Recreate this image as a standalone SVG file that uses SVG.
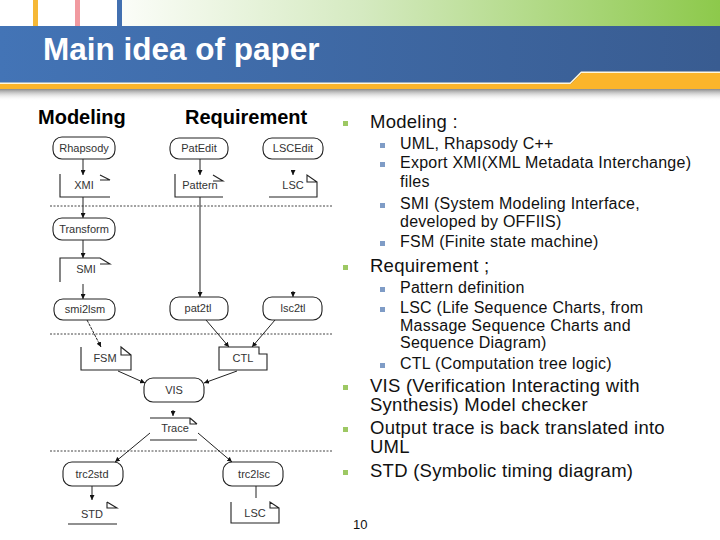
<svg xmlns="http://www.w3.org/2000/svg" width="720" height="540" viewBox="0 0 720 540">
<defs>
<linearGradient id="gTop" x1="122" y1="0" x2="720" y2="0" gradientUnits="userSpaceOnUse">
<stop offset="0" stop-color="#fbfdf8"/><stop offset="0.4" stop-color="#d5eac1"/><stop offset="1" stop-color="#8dc94b"/>
</linearGradient>
<linearGradient id="gBlue" x1="0" y1="0" x2="720" y2="0" gradientUnits="userSpaceOnUse">
<stop offset="0" stop-color="#4374b6"/><stop offset="1" stop-color="#395c91"/>
</linearGradient>
<linearGradient id="gShadow" x1="0" y1="89" x2="0" y2="101" gradientUnits="userSpaceOnUse">
<stop offset="0" stop-color="#8a8a8a"/><stop offset="1" stop-color="#ffffff" stop-opacity="0"/>
</linearGradient>
<marker id="ah" markerWidth="5" markerHeight="5" refX="5" refY="2.5" orient="auto" markerUnits="userSpaceOnUse">
<path d="M0,0 L5,2.5 L0,5 z" fill="#111"/>
</marker>
<style>
.proc{fill:none;stroke:#222;stroke-width:1.1}
.doc{fill:none;stroke:#222;stroke-width:1.1}
.lbl{font-family:"Liberation Sans",Arial,sans-serif;font-size:11px;fill:#333;text-anchor:middle}
.head{font-family:"Liberation Sans",Arial,sans-serif;font-size:20px;font-weight:bold;fill:#000}
.sep{stroke:#444;stroke-width:1;stroke-dasharray:2,1.5}
.con{stroke:#222;stroke-width:1;fill:none}
.b1{font-family:"Liberation Sans",Arial,sans-serif;font-size:18.5px;letter-spacing:0.25px;fill:#111}
.b2{font-family:"Liberation Sans",Arial,sans-serif;font-size:16px;letter-spacing:0.25px;fill:#111}
.sq1{fill:#9dc863}
.sq2{fill:#7f9cc6}
</style>
</defs>
<rect width="720" height="540" fill="#ffffff"/>
<!-- header -->
<g id="header">
<rect x="122" y="0" width="598" height="26" fill="url(#gTop)"/>
<rect x="33" y="0" width="5" height="26" fill="#f6b836"/>
<rect x="75" y="0" width="5" height="26" fill="#f19aa0"/>
<rect x="117" y="0" width="5" height="26" fill="#4270b0"/>
<rect x="0" y="26" width="720" height="58" fill="url(#gBlue)"/>
<rect x="0" y="89" width="720" height="12" fill="url(#gShadow)"/>
<path d="M0,82.5 H570 L581,71.5 H720 V73 H581.6 L570.6,84 H0 Z" fill="#fff8e0"/>
<path d="M0,84 H570.6 L581.6,73 H720 V89 H0 Z" fill="#fbb52b"/>
<text x="43" y="60" font-family="Liberation Sans,Arial,sans-serif" font-size="31.5" font-weight="bold" fill="#ffffff">Main idea of paper</text>
</g>
<!-- headings -->
<text class="head" x="38" y="124">Modeling</text>
<text class="head" x="185" y="124">Requirement</text>
<!-- separators -->
<g id="separators">
<line class="sep" x1="50" y1="206" x2="333" y2="206"/>
<line class="sep" x1="50" y1="334" x2="333" y2="334"/>
<line class="sep" x1="50" y1="451" x2="333" y2="451"/>
</g>
<!-- connectors -->
<g id="connectors">
<line class="con" x1="83" y1="159" x2="83" y2="175" marker-end="url(#ah)"/>
<line class="con" x1="83" y1="197" x2="83" y2="218" marker-end="url(#ah)"/>
<line class="con" x1="83" y1="240" x2="83" y2="258" marker-end="url(#ah)"/>
<line class="con" x1="83" y1="284" x2="83" y2="299" marker-end="url(#ah)"/>
<line class="con" x1="87" y1="320" x2="101" y2="347" stroke-dasharray="3,1" marker-end="url(#ah)"/>
<line class="con" x1="200" y1="159" x2="200" y2="175" marker-end="url(#ah)"/>
<line class="con" x1="293" y1="170" x2="293" y2="175" marker-end="url(#ah)"/>
<line class="con" x1="200" y1="197" x2="200" y2="297" marker-end="url(#ah)"/>
<line class="con" x1="293" y1="291" x2="293" y2="297" marker-end="url(#ah)"/>
<line class="con" x1="206" y1="320" x2="229" y2="347" marker-end="url(#ah)"/>
<line class="con" x1="275" y1="320" x2="252" y2="347" marker-end="url(#ah)"/>
<line class="con" x1="118" y1="371" x2="145" y2="383" marker-end="url(#ah)"/>
<line class="con" x1="237" y1="371" x2="204" y2="383" marker-end="url(#ah)"/>
<line class="con" x1="173" y1="410" x2="173" y2="416" marker-end="url(#ah)"/>
<line class="con" x1="150" y1="433" x2="115" y2="462" marker-end="url(#ah)"/>
<line class="con" x1="198" y1="433" x2="232" y2="462" marker-end="url(#ah)"/>
<line class="con" x1="92" y1="486" x2="92" y2="500" marker-end="url(#ah)"/>
<line class="con" x1="256" y1="486" x2="256" y2="498"/>
</g>
<!-- process nodes -->
<g id="n-rhapsody"><rect class="proc" x="53" y="137" width="62" height="22" rx="9"/><text class="lbl" x="84" y="152">Rhapsody</text></g>
<g id="n-patedit"><rect class="proc" x="170" y="138" width="58" height="21" rx="9"/><text class="lbl" x="199" y="152">PatEdit</text></g>
<g id="n-lscedit"><rect class="proc" x="263" y="138" width="60" height="21" rx="9"/><text class="lbl" x="293" y="152">LSCEdit</text></g>
<g id="n-transform"><rect class="proc" x="53" y="218" width="62" height="22" rx="9"/><text class="lbl" x="84" y="233">Transform</text></g>
<g id="n-smi2lsm"><rect class="proc" x="54" y="299" width="61" height="21" rx="9"/><text class="lbl" x="85" y="313">smi2lsm</text></g>
<g id="n-pat2tl"><rect class="proc" x="170" y="297" width="58" height="23" rx="9"/><text class="lbl" x="198" y="312">pat2tl</text></g>
<g id="n-lsc2tl"><rect class="proc" x="263" y="297" width="59" height="23" rx="9"/><text class="lbl" x="293" y="312">lsc2tl</text></g>
<g id="n-vis"><rect class="proc" x="144" y="378" width="60" height="24" rx="9"/><text class="lbl" x="174" y="394">VIS</text></g>
<g id="n-trc2std"><rect class="proc" x="63" y="462" width="60" height="24" rx="9"/><text class="lbl" x="92" y="478">trc2std</text></g>
<g id="n-trc2lsc"><rect class="proc" x="223" y="462" width="60" height="24" rx="9"/><text class="lbl" x="254" y="478">trc2lsc</text></g>
<!-- document nodes -->
<g id="n-xmi"><path class="doc" d="M60,174 V197 H110 M100,175 L110,180 H100"/><text class="lbl" x="84" y="189">XMI</text></g>
<g id="n-pattern"><path class="doc" d="M175,174 V197 H223 M213,175 L223,181 H213"/><text class="lbl" x="200" y="189">Pattern</text></g>
<g id="n-lsc1"><path class="doc" d="M269,197 H317 V182 H307 V175 L317,182"/><text class="lbl" x="293" y="189">LSC</text></g>
<g id="n-smi"><path class="doc" d="M60,282 V258 H100 L110,264 H100"/><text class="lbl" x="86" y="273">SMI</text></g>
<g id="n-fsm"><path class="doc" d="M81,347 V370 H131 V355 H121 V347 L131,355"/><text class="lbl" x="105" y="362">FSM</text></g>
<g id="n-ctl"><path class="doc" d="M219,347 H259 V354 H267 V370 H219 Z"/><text class="lbl" x="243" y="362">CTL</text></g>
<g id="n-trace"><path class="doc" d="M150,418 H190 V424 L197,424 M190,418 L197,424 M150,440 H197"/><text class="lbl" x="175" y="432">Trace</text></g>
<g id="n-std"><path class="doc" d="M68,524 H117 M107,502 V508 H117 L107,502"/><text class="lbl" x="92" y="518">STD</text></g>
<g id="n-lsc2"><path class="doc" d="M231,502 V523 H279 V508 H270 V502 L279,508"/><text class="lbl" x="255" y="517">LSC</text></g>
<!-- right text -->
<g id="notes">
<rect class="sq1" x="343" y="121" width="5" height="5"/>
<text class="b1" x="370" y="128">Modeling :</text>
<rect class="sq2" x="380" y="143" width="5" height="5"/>
<text class="b2" x="400" y="149">UML, Rhapsody C++</text>
<rect class="sq2" x="380" y="162" width="5" height="5"/>
<text class="b2" x="400" y="168">Export XMI(XML Metadata Interchange)</text>
<text class="b2" x="400" y="187">files</text>
<rect class="sq2" x="380" y="203" width="5" height="5"/>
<text class="b2" x="400" y="209">SMI (System Modeling Interface,</text>
<text class="b2" x="400" y="227">developed by OFFIIS)</text>
<rect class="sq2" x="380" y="241" width="5" height="5"/>
<text class="b2" x="400" y="247">FSM (Finite state machine)</text>
<rect class="sq1" x="343" y="265" width="5" height="5"/>
<text class="b1" x="370" y="272">Requirement ;</text>
<rect class="sq2" x="380" y="287" width="5" height="5"/>
<text class="b2" x="400" y="293">Pattern definition</text>
<rect class="sq2" x="380" y="307" width="5" height="5"/>
<text class="b2" x="400" y="313">LSC (Life Sequence Charts, from</text>
<text class="b2" x="400" y="331">Massage Sequence Charts and</text>
<text class="b2" x="400" y="348">Sequence Diagram)</text>
<rect class="sq2" x="380" y="363" width="5" height="5"/>
<text class="b2" x="400" y="369">CTL (Computation tree logic)</text>
<rect class="sq1" x="343" y="385" width="5" height="5"/>
<text class="b1" x="370" y="392">VIS (Verification Interacting with</text>
<text class="b1" x="370" y="411">Synthesis) Model checker</text>
<rect class="sq1" x="343" y="427" width="5" height="5"/>
<text class="b1" x="370" y="434">Output trace is back translated into</text>
<text class="b1" x="370" y="453">UML</text>
<rect class="sq1" x="343" y="470" width="5" height="5"/>
<text class="b1" x="370" y="477">STD (Symbolic timing diagram)</text>
<text x="353" y="529" font-family="Liberation Sans,Arial,sans-serif" font-size="13" fill="#111">10</text>
</g>
</svg>
